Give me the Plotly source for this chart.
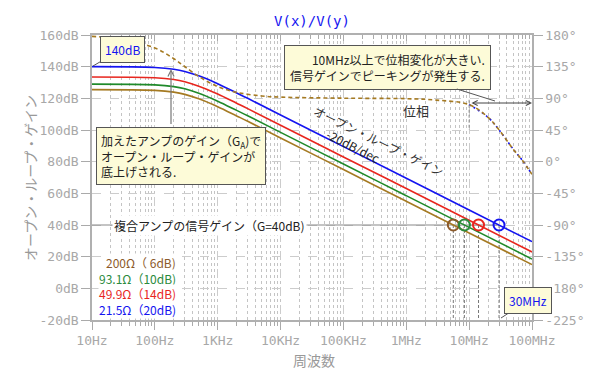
import plotly.graph_objects as go

# ---------------- data ----------------
freq_gain = [10, 100, 200, 300, 500, 1e3, 2e3, 3e3, 1e4, 1e5, 1e6, 1e7, 1e8]
gain_blue = [140.0, 139.5, 138.4, 137.0, 134.2, 129.2, 123.4, 120.0, 109.5, 89.5, 69.5, 49.5, 29.5]
gain_red = [133.5, 133.0, 131.9, 130.5, 127.7, 122.7, 116.9, 113.5, 103.0, 83.0, 63.0, 43.0, 23.0]
gain_green = [129.0, 128.5, 127.4, 126.0, 123.2, 118.2, 112.4, 109.0, 98.5, 78.5, 58.5, 38.5, 18.5]
gain_brown = [125.5, 125.0, 123.9, 122.5, 119.7, 114.7, 108.9, 105.5, 95.0, 75.0, 55.0, 35.0, 15.0]

freq_phase = [10, 30, 100, 200, 300, 500, 1e3, 2e3, 5e3, 1e4, 1e5, 1e6, 3e6, 1e7, 2e7, 3e7, 5e7, 7e7, 1e8]
phase = [178, 174, 161.6, 146.3, 135, 121, 106.7, 98.5, 93.4, 91.7, 90.2, 89.5, 87.5, 81, 63, 45, 18, 2, -18]

cross_freq = [5.6e6, 8.4e6, 14.1e6, 29.9e6]   # brown, green, red, blue
signal_gain = 40

x_tickvals = [10, 100, 1e3, 1e4, 1e5, 1e6, 1e7, 1e8]
x_ticktext = ["10Hz", "100Hz", "1KHz", "10KHz", "100KHz", "1MHz", "10MHz", "100MHz"]
y_tickvals = [-20, 0, 20, 40, 60, 80, 100, 120, 140, 160]
y_ticktext = [f"{v}dB" for v in y_tickvals]
p_tickvals = [-225, -180, -135, -90, -45, 0, 45, 90, 135, 180]
p_ticktext = [f"{v}°" for v in p_tickvals]

legend_labels = ["200Ω（ 6dB)", "93.1Ω（10dB)", "49.9Ω（14dB)", "21.5Ω（20dB)"]

# ---------------- style ----------------
BLUE = "#1414f0"
RED = "#e8261e"
GREEN = "#1f8a2a"
BROWN = "#a57a22"
BROWN_TXT = "#8c5a2a"
GREEN_TXT = "#2a8a3c"
TICKC = "#a8a8a8"
MONO = "DejaVu Sans Mono"
JP = "Noto Sans CJK JP"

PAGE_W, PAGE_H = 600, 381
OFF = 8                       # page body margin
W, H = PAGE_W - OFF, PAGE_H - OFF
L, R, T, B = 92, 532, 35, 320  # plot area in page pixels


def px(xp):
    return (xp - L) / (R - L)


def py(yp):
    return (B - yp) / (B - T)


fig = go.Figure()

# phase curves (dashed)
tail = [i for i, f in enumerate(freq_phase) if f >= 1e7]
fig.add_trace(go.Scatter(x=[freq_phase[i] for i in tail], y=[phase[i] for i in tail], yaxis="y2",
                         mode="lines", line=dict(color=BLUE, width=1.6, dash="2px,3px", shape="spline"),
                         hoverinfo="skip", showlegend=False))
fig.add_trace(go.Scatter(x=freq_phase, y=phase, yaxis="y2", mode="lines",
                         line=dict(color=BROWN, width=1.6, dash="4px,3px", shape="spline"),
                         hoverinfo="skip", showlegend=False))

# 40 dB signal-gain line
fig.add_trace(go.Scatter(x=[freq_gain[0], cross_freq[-1]], y=[signal_gain, signal_gain], mode="lines",
                         line=dict(color="#8a8a8a", width=1.2), hoverinfo="skip", showlegend=False))

# vertical dashed drops from crossing points
for f in cross_freq:
    fig.add_trace(go.Scatter(x=[f, f], y=[signal_gain, y_tickvals[0]], mode="lines",
                             line=dict(color="#777777", width=1, dash="3px,2px"),
                             hoverinfo="skip", showlegend=False))

# 10 MHz short segment under the arrow
fig.add_trace(go.Scatter(x=[1e7, 1e7], y=[88, 45], yaxis="y2", mode="lines",
                         line=dict(color="#888888", width=1, dash="3px,2px"),
                         hoverinfo="skip", showlegend=False))

# gain curves
for g, c in [(gain_brown, BROWN), (gain_green, GREEN), (gain_red, RED), (gain_blue, BLUE)]:
    fig.add_trace(go.Scatter(x=freq_gain, y=g, mode="lines", line=dict(color=c, width=1.6, shape="spline"),
                             hoverinfo="skip", showlegend=False))

# markers
fig.add_trace(go.Scatter(x=cross_freq, y=[signal_gain] * 4, mode="markers",
                         marker=dict(symbol="circle-open", size=11,
                                     color=[BROWN_TXT, GREEN_TXT, RED, BLUE], line=dict(width=2)),
                         hoverinfo="skip", showlegend=False))

# dummy for top axis
fig.add_trace(go.Scatter(x=[10, 1e8], y=[None, None], xaxis="x2", mode="lines",
                         hoverinfo="skip", showlegend=False))

grid_major = "#cccccc"
grid_minor = "#c4c4c4"

fig.update_layout(
    width=W, height=H,
    margin=dict(l=L - OFF, r=PAGE_W - R, t=T - OFF, b=PAGE_H - B, autoexpand=False),
    paper_bgcolor="white", plot_bgcolor="white",
    title=dict(text="V(x)/V(y)", font=dict(family=MONO, size=14, color=BLUE),
               x=((L + R) / 2 - OFF) / W, xanchor="center", xref="container",
               y=1 - (21 - OFF) / H, yanchor="middle", yref="container"),
    xaxis=dict(type="log", range=[1, 8], tickvals=x_tickvals, ticktext=x_ticktext,
               tickfont=dict(family=MONO, size=13, color=TICKC),
               showgrid=True, gridcolor=grid_major, griddash="dash", gridwidth=1,
               ticks="outside", ticklen=8, tickcolor="#aaaaaa",
               showline=True, linecolor="#b0b0b0", linewidth=1.5,
               minor=dict(dtick="D1", ticks="outside", ticklen=4, tickcolor="#aaaaaa",
                          showgrid=True, gridcolor=grid_minor, griddash="dot", gridwidth=1),
               zeroline=False),
    xaxis2=dict(type="log", range=[1, 8], overlaying="x", side="top", showticklabels=False,
                ticks="inside", ticklen=6, tickcolor="#aaaaaa", tickvals=x_tickvals,
                minor=dict(dtick="D1", ticks="inside", ticklen=4, tickcolor="#aaaaaa", showgrid=False),
                showgrid=False, showline=True, linecolor="#b0b0b0", linewidth=1.5, zeroline=False),
    yaxis=dict(range=[-20, 160], tickvals=y_tickvals, ticktext=y_ticktext,
               tickfont=dict(family=MONO, size=13, color=TICKC),
               showgrid=True, gridcolor=grid_major, griddash="dash", gridwidth=1,
               ticks="outside", ticklen=9, tickcolor="#aaaaaa",
               showline=True, linecolor="#b0b0b0", linewidth=1.5, zeroline=False),
    yaxis2=dict(range=[-225, 180], tickvals=p_tickvals, ticktext=p_ticktext, overlaying="y", side="right",
                tickfont=dict(family=MONO, size=13, color=TICKC),
                showgrid=False, ticks="outside", ticklen=9, tickcolor="#aaaaaa",
                showline=True, linecolor="#b0b0b0", linewidth=1.5, zeroline=False),
)

ann = []
BOX_BG = "#fdfbd8"
BOX_BD = "#555555"


def note(**kw):
    d = dict(xref="paper", yref="paper", xanchor="center", yanchor="middle")
    d.update(kw)
    ann.append(d)


# axis titles
note(text="周波数", x=px(314), y=py(360), showarrow=False,
     font=dict(family=JP, size=14, color="#999999"))
note(text="オープン・ループ・ゲイン", x=px(30), y=py(178), showarrow=False, textangle=-90,
     font=dict(family=JP, size=14, color="#999999"))

# 140dB callout
note(text="140dB", x=px(93), y=py(66), showarrow=True,
     ax=122 - 93, ay=49 - 66, arrowhead=0, arrowcolor=BOX_BD, arrowwidth=1,
     bgcolor=BOX_BG, bordercolor=BOX_BD, borderwidth=1, borderpad=4,
     font=dict(family=JP, size=12, color=BLUE))

# top-right callout
note(text="10MHz以上で位相変化が大きい.<br>信号ゲインでピーキングが発生する.",
     x=px(495), y=py(101), showarrow=True,
     ax=387 - 495, ay=67 - 101, arrowhead=0, arrowcolor=BOX_BD, arrowwidth=1,
     align="right", bgcolor=BOX_BG, bordercolor=BOX_BD, borderwidth=1, borderpad=5,
     font=dict(family=JP, size=12, color="#222222"))

# left callout arrow + box
note(text=" ", x=px(171), y=py(69), showarrow=True,
     ax=0, ay=126 - 69, arrowhead=5, arrowsize=1, arrowcolor="#777777", arrowwidth=1.2,
     font=dict(size=1))
note(text="加えたアンプのゲイン（G<sub>A</sub>)で<br>オープン・ループ・ゲインが<br>底上げされる.",
     x=px(181), y=py(155.5), showarrow=False,
     align="left", bgcolor=BOX_BG, bordercolor=BOX_BD, borderwidth=1, borderpad=4,
     font=dict(family=JP, size=12, color="#222222"))

# 30MHz callout
note(text="30MHz", x=px(501), y=py(318), showarrow=True,
     ax=528 - 501, ay=300.5 - 318, arrowhead=0, arrowcolor=BOX_BD, arrowwidth=1,
     bgcolor=BOX_BG, bordercolor=BOX_BD, borderwidth=1, borderpad=4,
     font=dict(family=JP, size=12, color=BLUE))

# rotated labels
note(text="オープン・ループ・ゲイン", x=px(379), y=py(140), showarrow=False, textangle=26,
     font=dict(family=JP, size=12, color="#333333"))
note(text="-20dB/dec", x=px(353), y=py(145), showarrow=False, textangle=27,
     font=dict(family=JP, size=12, color="#222222"))

# phase label + double arrow
note(text="位相", x=px(416), y=py(110), showarrow=False,
     font=dict(family=JP, size=13, color="#333333"))
note(text=" ", x=px(532), y=py(103), showarrow=True,
     ax=470 - 532, ay=0, arrowhead=5, startarrowhead=5, arrowside="end+start",
     arrowcolor="#444444", arrowwidth=1, font=dict(size=1))

# signal gain label
note(text="複合アンプの信号ゲイン（G=40dB)", x=px(209), y=py(225), showarrow=False,
     bgcolor="white", borderpad=1, font=dict(family=JP, size=12, color="#222222"))

# resistor legend text
for lbl, c, yy in zip(legend_labels, [BROWN_TXT, GREEN_TXT, RED, BLUE], [262.5, 278, 293.5, 309]):
    note(text=lbl, x=px(177), y=py(yy), xanchor="right", showarrow=False,
         bgcolor="white", borderpad=0, font=dict(family=JP, size=12, color=c))

fig.update_layout(annotations=ann)
fig.write_html("out.html")
